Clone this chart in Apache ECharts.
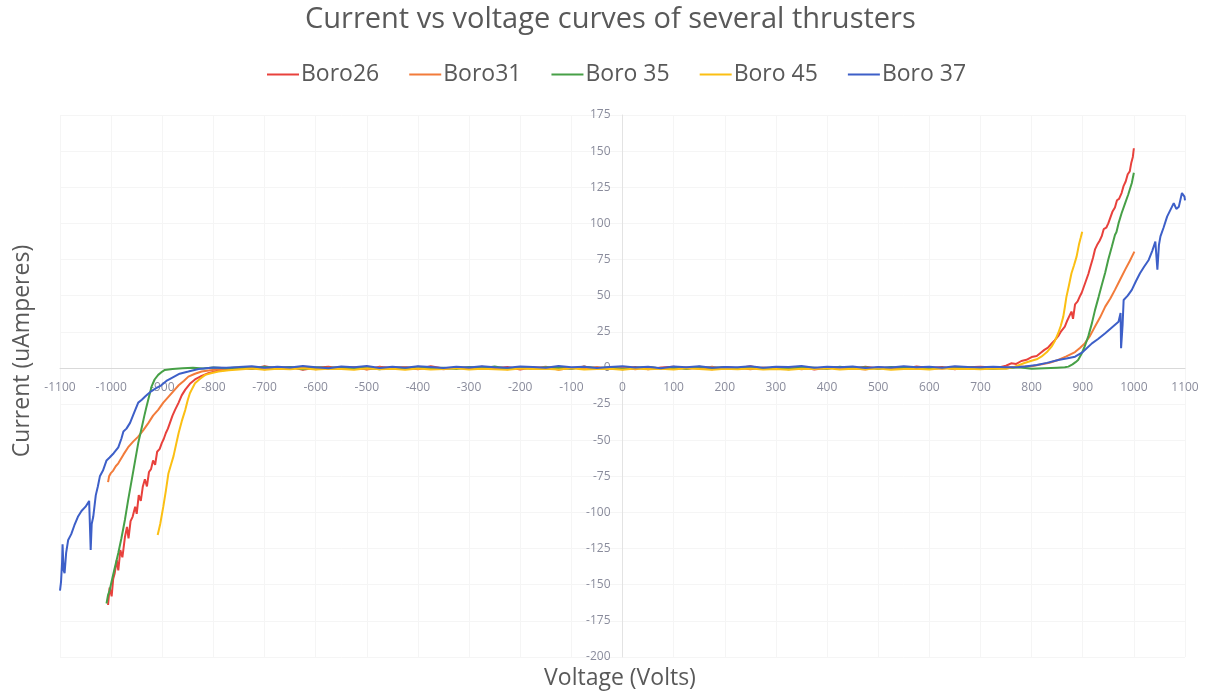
<!DOCTYPE html>
<html>
<head>
<meta charset="utf-8">
<script src="https://cdn.jsdelivr.net/npm/echarts@6/dist/echarts.min.js"></script>
<style>
  html, body { margin: 0; padding: 0; background: #ffffff; }
  #chart { width: 1206px; height: 693px; }
</style>
</head>
<body>
<div id="chart"></div>
<script>
// Sweep results for five thrusters: current (uA) against applied voltage (V).
const seriesNames = ['Boro26', 'Boro31', 'Boro 35', 'Boro 45', 'Boro 37'];
const seriesColors = ['#e8413c', '#f27b3a', '#47a047', '#fbbf13', '#3d5fc8'];

const xTicks = { min: -1100, max: 1100, step: 100 };
const yTicks = { min: -200, max: 175, step: 25 };

// Shared voltage grid for the flat (sub-threshold) part of every sweep.
const flatVolts = [-750, -725, -700, -675, -650, -625, -600, -575, -550, -525, -500, -475, -450, -425, -400,
  -375, -350, -325, -300, -275, -250, -225, -200, -175, -150, -125, -100, -75, -50, -25, 0,
  25, 50, 75, 100, 125, 150, 175, 200, 225, 250, 275, 300, 325, 350, 375, 400, 425, 450, 475,
  500, 525, 550, 575, 600, 625, 650, 675, 700, 725];

// Boro26
const boro26Neg = [[-1006, -164], [-1003, -152], [-999, -158], [-996, -146], [-993, -142], [-989, -133], [-986, -140],
  [-982, -126], [-978, -131], [-973, -117], [-969, -110], [-966, -118], [-962, -106], [-958, -103], [-953, -96],
  [-950, -101], [-946, -88], [-942, -92], [-938, -82], [-934, -77], [-930, -82], [-926, -72], [-922, -70],
  [-918, -64], [-914, -67], [-910, -58], [-905, -56], [-901, -52], [-897, -49], [-893, -45], [-889, -42],
  [-885, -38], [-880, -33], [-875, -29], [-868, -24], [-862, -19], [-855, -15], [-846, -11], [-836, -8],
  [-823, -5.5], [-810, -3.7], [-795, -2.2], [-777, -1.4]];
const boro26Flat = [0.4, -0.8, 1.1, -0.3, 0.7, -1.2, 0.2, 0.9, -0.6, 0.3, -1.0, 0.8, -0.2, 0.5, -0.9, 1.2, -0.4,
  0.1, -0.7, 0.9, -0.3, 0.6, -1.1, 0.4, -0.2, 0.8, -0.5, 1.0, -0.8, 0.2, -0.4, 0.7, -1.0, 0.3, 0.9, -0.6,
  0.1, -0.9, 0.6, -0.2, 1.1, -0.7, 0.4, -0.3, 0.8, -1.1, 0.2, 0.5, -0.6, 0.9, -0.4, 0.3, -0.8, 1.0, -0.1,
  0.6, -0.9, 0.4, 0.9, 0.3];
const boro26Pos = [[740, 0.6], [750, 1.5], [760, 3.2], [770, 2.8], [780, 4.8], [790, 5.6], [800, 7.5], [810, 8.2],
  [818, 10.5], [825, 12.5], [832, 14], [838, 16.5], [845, 19], [852, 22], [858, 25.5], [865, 28.6], [870, 33],
  [874, 36], [878, 39], [881, 34], [885, 44], [890, 46], [895, 50], [898, 52], [902, 56], [906, 60], [911, 65],
  [915, 70], [920, 76], [924, 82], [928, 85], [933, 88], [937, 91], [941, 96], [946, 97], [950, 100],
  [954, 104], [958, 108], [963, 111], [967, 116], [971, 117], [976, 121], [980, 126], [984, 129], [988, 134],
  [992, 136], [995, 142], [998, 146], [1000, 152]];

// Boro31
const boro31Neg = [[-1006, -79], [-1004, -75], [-1001, -73], [-996, -71], [-991, -68], [-986, -66], [-976, -60],
  [-967, -55], [-957, -51], [-947, -47.5], [-937, -43], [-927, -38], [-918, -33], [-908, -29], [-898, -24],
  [-888, -20], [-878, -16], [-868, -12], [-858, -9], [-849, -6], [-836, -4], [-823, -2.5], [-806, -1.6],
  [-790, -1], [-775, -0.6]];
const boro31Flat = [-0.6, 0.5, -1.0, 0.2, -0.4, 0.8, -0.9, 0.1, -0.5, 0.7, -1.1, 0.3, -0.2, 0.6, -0.8, 0.4,
  -1.0, 0.2, 0.5, -0.7, 0.1, -0.9, 0.6, -0.3, 0.8, -1.2, 0.2, -0.4, 0.7, -0.6, 0.3, -1.0, 0.5, -0.2, -0.8,
  0.4, -0.5, 0.9, -0.7, 0.2, -1.0, 0.3, -0.4, 0.6, -0.9, 0.1, -0.6, 0.7, -0.3, -1.1, 0.4, -0.2, 0.5, -0.8,
  0.2, -0.5, 0.6, -0.3, 0.1, -0.4];
const boro31Pos = [[750, 0.3], [775, 0.8], [800, 1.2], [820, 2.5], [835, 3.6], [852, 5.5], [868, 8], [885, 11],
  [895, 14], [904, 17], [914, 22], [924, 28.6], [934, 35], [944, 42.4], [954, 48], [963, 54], [973, 61],
  [983, 68], [992, 74], [1001, 80.5]];

// Boro 35
const boro35Neg = [[-1009, -163], [-1006, -157], [-1003, -154], [-998, -146], [-994, -140], [-990, -134],
  [-986, -128], [-980, -118], [-973, -105], [-967, -92], [-960, -78], [-953, -64], [-947, -52], [-940, -41],
  [-935, -33], [-931, -27], [-926, -20], [-921, -13], [-915, -8], [-908, -4.8], [-900, -2.5], [-895, -1.4],
  [-880, -0.8], [-860, -0.3], [-840, 0.2], [-820, -0.4], [-800, 0.3], [-775, -0.2]];
const boro35Flat = [0.3, -0.5, 0.8, -0.2, 0.6, -0.9, 0.4, -0.1, 0.7, -0.6, 0.2, -1.0, 0.5, -0.3, 0.9, -0.4,
  0.1, -0.7, 0.6, -0.2, 1.0, -0.5, 0.3, -0.8, 0.4, 0.0, -0.6, 0.8, -0.3, 0.5, -0.9, 0.2, 0.7, -0.4, 0.3,
  -0.7, 0.9, -0.1, 0.4, -0.8, 0.6, -0.3, 0.2, -0.9, 0.5, 0.1, -0.5, 0.8, -0.2, 0.4, -0.7, 0.6, -0.1, 0.3,
  -0.6, 0.2, -0.4, 0.5, -0.3, -0.5];
const boro35Pos = [[750, -0.3], [775, 0.4], [800, -0.6], [825, -0.2], [850, 0.2], [865, 0.4], [872, 0.9],
  [880, 2.5], [886, 4], [891, 5.5], [898, 10], [904, 15], [911, 22], [918, 31], [924, 40], [931, 49],
  [937, 57], [944, 66], [950, 75], [957, 84], [963, 92], [966, 94], [970, 100], [976, 107], [979, 108],
  [983, 114], [989, 120], [992, 121], [996, 128], [1000, 135]];

// Boro 45
const boro45Neg = [[-909, -115.6], [-904, -108], [-898, -96], [-893, -85], [-888, -73], [-883, -67], [-878, -61],
  [-873, -53], [-868, -45], [-862, -37], [-855, -29], [-850, -22], [-846, -17.5], [-841, -14], [-836, -10.6],
  [-826, -7.5], [-816, -4.8], [-803, -3.5], [-790, -2.5], [-770, -1.6]];
const boro45Flat = [-1.0, -0.4, -1.2, -0.6, -0.9, -0.2, -1.1, -0.5, -0.8, -1.3, -0.3, -0.9, -0.6, -1.2, -0.4,
  -1.0, -0.7, -0.2, -1.1, -0.5, -0.9, -1.3, -0.4, -0.8, -0.6, -1.1, -0.3, -1.0, -0.7, -0.5, -1.2, -0.4,
  -0.9, -0.6, -1.1, -0.3, -0.8, -1.2, -0.5, -0.9, -0.4, -1.0, -0.7, -1.3, -0.5, -0.8, -0.2, -1.1, -0.6,
  -0.9, -0.4, -1.2, -0.7, -0.5, -1.0, -0.3, -0.8, -0.6, -0.9, -0.4];
const boro45Pos = [[750, -0.5], [765, 0.6], [786, 3.4], [800, 5], [810, 6], [819, 7.8], [830, 11], [839, 14.7],
  [846, 19], [852, 24], [857, 29], [862, 35.5], [865, 42], [868, 49], [873, 57], [878, 65.5], [883, 71],
  [888, 77], [893, 86], [896, 90], [899, 94.3]];

// Boro 37
const boro37Neg = [[-1100, -154], [-1098, -148], [-1096, -135], [-1095, -122], [-1093, -140], [-1091, -142],
  [-1088, -128], [-1084, -119], [-1078, -115], [-1072, -109], [-1065, -103], [-1058, -99], [-1050, -96],
  [-1043, -92], [-1040, -126], [-1038, -108], [-1035, -103], [-1030, -88], [-1026, -82], [-1022, -75],
  [-1016, -71], [-1009, -64], [-1003, -62], [-995, -59], [-986, -55], [-980, -49], [-976, -44], [-970, -42],
  [-963, -38], [-955, -31], [-947, -24], [-940, -22], [-934, -20], [-928, -18], [-921, -16], [-912, -14],
  [-902, -12], [-892, -9], [-882, -7], [-866, -4], [-849, -2.5], [-829, -0.7], [-800, 0.3], [-775, 0.2]];
const boro37Flat = [0.6, 1.2, 0.1, 0.9, 0.3, 1.4, 0.5, -0.2, 1.0, 0.4, 1.3, 0.0, 0.8, 0.2, 1.1, 0.6, -0.1,
  0.9, 0.3, 1.2, 0.5, 0.1, 1.0, 0.7, 0.2, 1.3, 0.4, 0.9, 0.0, 0.6, 1.1, 0.3, 0.8, -0.2, 1.0, 0.5, 1.2,
  0.2, 0.7, 0.4, 1.1, 0.1, 0.9, 0.6, 1.3, 0.2, 0.8, 0.4, 1.0, -0.1, 0.7, 0.3, 1.2, 0.5, 0.9, 0.2, 1.1,
  0.6, 0.4, 0.8];
const boro37Pos = [[750, 0.4], [775, 0.6], [787, 1], [810, 2], [830, 3.5], [852, 5.5], [868, 6.5], [885, 7.8],
  [900, 11], [918, 17], [930, 20], [944, 24], [957, 28], [970, 32], [974, 38], [975, 13.6], [978, 30],
  [980, 47], [988, 50], [996, 54], [1004, 60], [1012, 65.5], [1020, 70], [1029, 74.7], [1036, 81],
  [1042, 87.4], [1046, 68], [1049, 85], [1052, 91], [1058, 97], [1065, 104.7], [1071, 109], [1078, 114],
  [1083, 110], [1088, 111.6], [1094, 121], [1099, 118.5], [1100, 116]];

// Join a sweep's negative tail, flat middle and positive tail into one [V, I] list.
function sweep(neg, flat, pos) {
  return neg.concat(flatVolts.map((v, i) => [v, flat[i]]), pos);
}

const sweeps = [
  sweep(boro26Neg, boro26Flat, boro26Pos),
  sweep(boro31Neg, boro31Flat, boro31Pos),
  sweep(boro35Neg, boro35Flat, boro35Pos),
  sweep(boro45Neg, boro45Flat, boro45Pos),
  sweep(boro37Neg, boro37Flat, boro37Pos)
];

const textGray = '#595959';
const tickGray = '#8a8c9c';
const font = '"Open Sans", "Liberation Sans", sans-serif';

// Plot area; both axes are pushed in so they cross at (0, 0).
const W = 1206, H = 693;
const plot = { left: 60, right: 21, top: 115, bottom: 36 };
const plotW = W - plot.left - plot.right;
const plotH = H - plot.top - plot.bottom;
const zeroFromLeft = plotW * (0 - xTicks.min) / (xTicks.max - xTicks.min);
const zeroFromBottom = plotH * (0 - yTicks.min) / (yTicks.max - yTicks.min);

const chart = echarts.init(document.getElementById('chart'), null, { renderer: 'canvas' });

chart.setOption({
  backgroundColor: '#ffffff',
  animation: false,
  title: {
    text: 'Current vs voltage curves of several thrusters',
    left: 300,
    top: 0,
    textStyle: { fontFamily: font, fontSize: 29, fontWeight: 'normal', color: textGray }
  },
  legend: {
    data: seriesNames,
    top: 58,
    left: 262,
    icon: 'rect',
    itemWidth: 32,
    itemHeight: 2,
    itemGap: 30,
    textStyle: { fontFamily: font, fontSize: 23, color: textGray, padding: [0, 0, 0, -3] }
  },
  grid: { left: plot.left, right: plot.right, top: plot.top, bottom: plot.bottom },
  xAxis: {
    type: 'value',
    min: xTicks.min,
    max: xTicks.max,
    interval: xTicks.step,
    position: 'bottom',
    offset: -zeroFromBottom,
    axisLine: { onZero: false, lineStyle: { color: '#d9d9d9' } },
    axisTick: { show: false },
    axisLabel: { color: tickGray, fontFamily: font, fontSize: 12, margin: 14, formatter: v => String(v) },
    splitLine: { show: true, lineStyle: { color: '#f5f5f5' } }
  },
  yAxis: {
    type: 'value',
    min: yTicks.min,
    max: yTicks.max,
    interval: yTicks.step,
    position: 'left',
    offset: -zeroFromLeft,
    axisLine: { show: true, onZero: false, lineStyle: { color: '#e3e3e3' } },
    axisTick: { show: false },
    axisLabel: { color: tickGray, fontFamily: font, fontSize: 12, margin: 12, formatter: v => String(v) },
    splitLine: { show: true, lineStyle: { color: '#f5f5f5' } }
  },
  graphic: [
    {
      type: 'text',
      x: 620,
      y: 678,
      style: { text: 'Voltage (Volts)', fontFamily: font, fontSize: 23, fill: textGray, align: 'center', verticalAlign: 'middle' }
    },
    {
      type: 'text',
      x: 22,
      y: 351,
      rotation: Math.PI / 2,
      style: { text: 'Current (uAmperes)', fontFamily: font, fontSize: 23, fill: textGray, align: 'center', verticalAlign: 'middle' }
    }
  ],
  series: seriesNames.map((name, i) => ({
    name: name,
    type: 'line',
    data: sweeps[i],
    showSymbol: false,
    symbol: 'none',
    color: seriesColors[i],
    lineStyle: { width: 2, color: seriesColors[i] },
    clip: true,
    z: 2 + i
  }))
});
</script>
</body>
</html>
